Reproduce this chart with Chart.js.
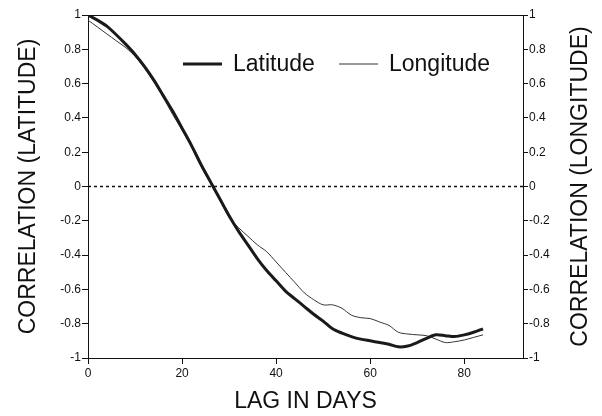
<!DOCTYPE html>
<html>
<head>
<meta charset="utf-8">
<script src="https://cdn.jsdelivr.net/npm/chart.js@4.4.1/dist/chart.umd.min.js"></script>
<style>
  body { margin: 0; background: #fff; }
</style>
</head>
<body>
<canvas id="chart" width="602" height="416"></canvas>
<script>
// lag in days, one reading every 2 days
var lagDays = [0, 2, 4, 6, 8, 10, 12, 14, 16, 18, 20, 22, 24, 26, 28, 30, 32, 34, 36, 38, 40,
               42, 44, 46, 48, 50, 52, 54, 56, 58, 60, 62, 64, 66, 68, 70, 72, 74, 76, 78, 80, 82, 84];

var latitude = [1.00, 0.97, 0.935, 0.885, 0.83, 0.77, 0.70, 0.62, 0.53, 0.44, 0.34, 0.24, 0.13, 0.03,
                -0.07, -0.17, -0.26, -0.34, -0.42, -0.49, -0.55, -0.61, -0.655, -0.70, -0.745, -0.785,
                -0.83, -0.855, -0.875, -0.89, -0.90, -0.91, -0.92, -0.935, -0.93, -0.91, -0.885, -0.865,
                -0.87, -0.875, -0.865, -0.85, -0.83];

var longitude = [0.97, 0.93, 0.89, 0.85, 0.81, 0.76, 0.69, 0.61, 0.52, 0.42, 0.33, 0.23, 0.12, 0.02,
                 -0.08, -0.18, -0.24, -0.29, -0.34, -0.38, -0.44, -0.50, -0.56, -0.62, -0.66, -0.69,
                 -0.69, -0.71, -0.75, -0.765, -0.77, -0.79, -0.81, -0.85, -0.86, -0.865, -0.87, -0.89,
                 -0.91, -0.905, -0.895, -0.88, -0.865];

var xTicks = [0, 20, 40, 60, 80];

var FONT = "'Liberation Sans', Arial, sans-serif";
var INK = "#111";

function toPoints(ys) {
    var pts = [];
    for (var i = 0; i < lagDays.length; i++) {
        pts.push({x: lagDays[i], y: ys[i]});
    }
    return pts;
}

// "1", "0.8", ... "0", "-0.2", ... "-1"
function shortLabel(value) {
    return String(Number(value.toFixed(1)));
}

// frame top, dotted zero line, legend and right hand title
var extras = {
    id: "extras",
    afterDatasetsDraw: function (chart) {
        var ctx = chart.ctx;
        var area = chart.chartArea;
        var y0 = chart.scales.y.getPixelForValue(0);

        ctx.save();
        ctx.strokeStyle = INK;
        ctx.lineWidth = 1;
        ctx.beginPath();
        ctx.moveTo(area.left, area.top + 0.5);
        ctx.lineTo(area.right, area.top + 0.5);
        ctx.stroke();

        ctx.setLineDash([3, 3]);
        ctx.lineWidth = 1.5;
        ctx.beginPath();
        ctx.moveTo(area.left, y0);
        ctx.lineTo(area.right, y0);
        ctx.stroke();
        ctx.setLineDash([]);

        // legend
        var items = [{x: 183, ds: chart.data.datasets[0]}, {x: 339, ds: chart.data.datasets[1]}];
        ctx.font = "23px " + FONT;
        ctx.textBaseline = "middle";
        ctx.textAlign = "left";
        items.forEach(function (it) {
            ctx.strokeStyle = it.ds.borderColor;
            ctx.lineWidth = it.ds.borderWidth;
            ctx.beginPath();
            ctx.moveTo(it.x, 64);
            ctx.lineTo(it.x + 39, 64);
            ctx.stroke();
            ctx.fillStyle = INK;
            ctx.fillText(it.ds.label, it.x + 50, 65);
        });

        ctx.translate(581, (area.top + area.bottom) / 2);
        ctx.rotate(-Math.PI / 2);
        ctx.textAlign = "center";
        ctx.fillText("CORRELATION (LONGITUDE)", 0, 0);
        ctx.restore();
    }
};

var yTickOpts = {
    color: INK,
    font: {family: FONT, size: 12},
    stepSize: 0.2,
    padding: 1,
    callback: shortLabel
};

var myChart = new Chart(document.getElementById("chart"), {
    type: "line",
    data: {
        datasets: [
            {
                label: "Latitude",
                data: toPoints(latitude),
                borderColor: "#1a1a1a",
                borderWidth: 3,
                pointRadius: 0,
                tension: 0.3,
                fill: false
            },
            {
                label: "Longitude",
                data: toPoints(longitude),
                borderColor: "#333",
                borderWidth: 1,
                pointRadius: 0,
                tension: 0.3,
                fill: false
            }
        ]
    },
    options: {
        responsive: false,
        animation: false,
        layout: {padding: {top: 15, left: 0, right: 0, bottom: 0}},
        plugins: {
            legend: {display: false},
            tooltip: {enabled: false}
        },
        scales: {
            x: {
                type: "linear",
                min: 0,
                max: 92.5,
                afterBuildTicks: function (scale) {
                    scale.ticks = xTicks.map(function (v) { return {value: v}; });
                },
                afterFit: function (scale) { scale.height = 58; },
                grid: {drawOnChartArea: false, tickLength: 6, color: INK},
                border: {color: INK, width: 1},
                ticks: {color: INK, font: {family: FONT, size: 12}, padding: 2, maxRotation: 0},
                title: {
                    display: true,
                    text: "LAG IN DAYS",
                    color: INK,
                    font: {family: FONT, size: 23},
                    padding: {top: 0, bottom: 1}
                }
            },
            y: {
                position: "left",
                min: -1,
                max: 1,
                afterFit: function (scale) { scale.width = 88; },
                grid: {drawOnChartArea: false, tickLength: 6, color: INK},
                border: {color: INK, width: 1},
                ticks: yTickOpts,
                title: {
                    display: true,
                    text: "CORRELATION (LATITUDE)",
                    color: INK,
                    font: {family: FONT, size: 23},
                    padding: {top: 15, bottom: 0}
                }
            },
            y2: {
                position: "right",
                min: -1,
                max: 1,
                afterFit: function (scale) { scale.width = 79; },
                grid: {drawOnChartArea: false, tickLength: 5, color: INK},
                border: {color: INK, width: 1},
                ticks: yTickOpts
            }
        }
    },
    plugins: [extras]
});
</script>
</body>
</html>
